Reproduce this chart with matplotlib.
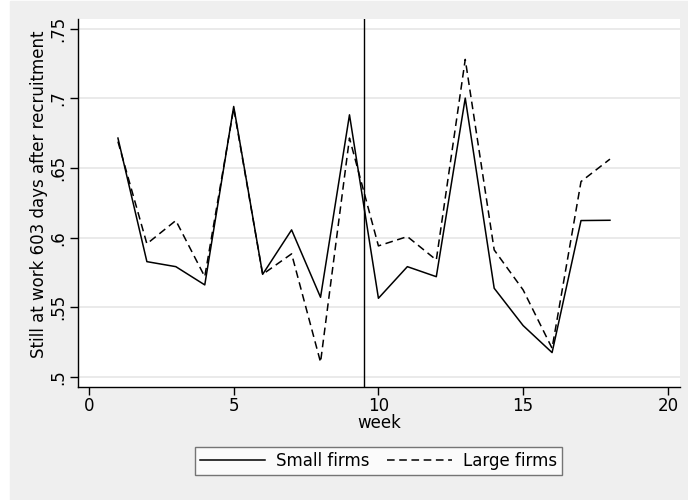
import matplotlib
matplotlib.use("Agg")
import matplotlib.pyplot as plt
from matplotlib.patches import Rectangle

# data
weeks = list(range(1, 19))
small_firms = [.6715, .5828, .5792, .5661, .6942, .5737, .6056, .5572, .6882,
               .5565, .5792, .5720, .7002, .5637, .5369, .5175, .6123, .6125]
large_firms = [.6690, .5956, .6123, .5720, .6930, .5737, .5884, .5106, .6715,
               .5941, .6008, .5840, .7280, .5912, .5625, .5206, .6403, .6564]
cutoff_week = 9.5
yticks = [.5, .55, .6, .65, .7, .75]
ytick_labels = [".5", ".55", ".6", ".65", ".7", ".75"]
xticks = [0, 5, 10, 15, 20]

W, H = 688, 500
bg = "#efefef"
fig = plt.figure(figsize=(W / 100, H / 100), dpi=100, facecolor="white")
# grey graph region (small white strip at the left edge)
fig.patches.append(Rectangle((10 / W, 0), 1 - 10 / W, 1 - 1 / H,
                             transform=fig.transFigure, color=bg, zorder=-10))

ax = fig.add_axes([78 / W, 1 - 387 / H, 602 / W, 368 / H])
ax.set_facecolor("white")

ax.plot(weeks, small_firms, color="black", lw=1.1, label="Small firms")
ax.plot(weeks, large_firms, color="black", lw=1.1, ls=(0, (5, 3)),
        label="Large firms")
ax.axvline(cutoff_week, color="black", lw=1.0)

ax.set_xlim(-0.38, 20.42)
ax.set_ylim(.4928, .757)
ax.set_yticks(yticks)
ax.set_yticklabels(ytick_labels, rotation=90, va="center")
ax.set_xticks(xticks)
ax.yaxis.grid(True, color="#e6e6e6", lw=1.2)
ax.set_axisbelow(True)
for s in ["top", "right"]:
    ax.spines[s].set_visible(False)
for s in ["left", "bottom"]:
    ax.spines[s].set_linewidth(1.0)
ax.tick_params(labelsize=12, length=6, width=1, pad=1.5)
ax.set_xlabel("week", fontsize=12, labelpad=-1)
ax.set_ylabel("Still at work 603 days after recruitment", fontsize=12)
ax.yaxis.set_label_coords(-30 / 602, (387 - 194) / 368)

leg = fig.legend(loc="center", bbox_to_anchor=(378.5 / W, 1 - 460.5 / H),
                 ncol=2, fontsize=12, frameon=True, fancybox=False,
                 edgecolor="#555555", handlelength=3.9, handletextpad=0.66,
                 columnspacing=1.0, borderpad=0.3, borderaxespad=0)
leg.get_frame().set_linewidth(1.0)

fig.savefig("out.png", dpi=100, facecolor="white")
